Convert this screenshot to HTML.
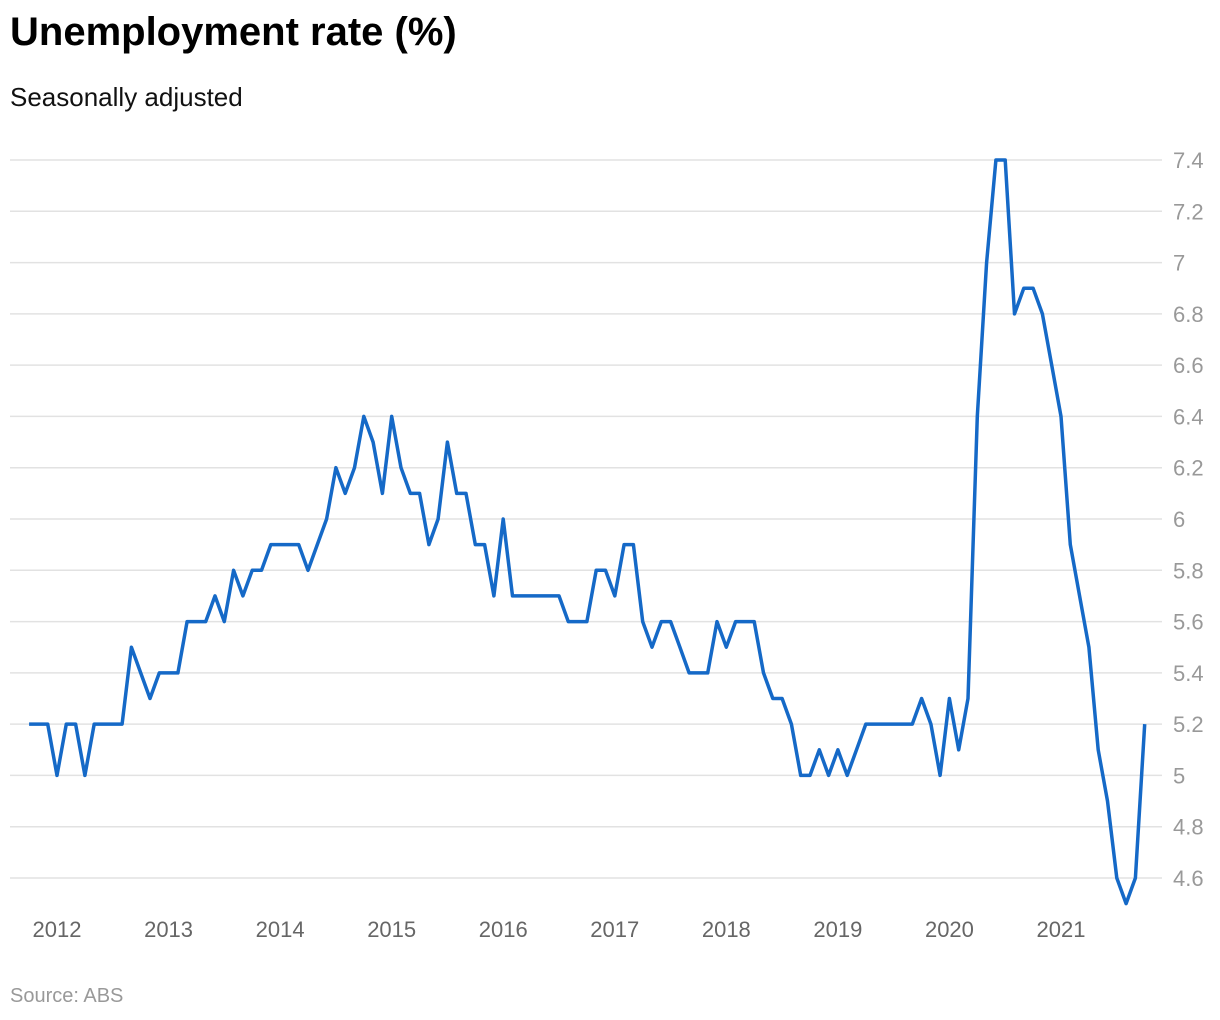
<!DOCTYPE html>
<html><head><meta charset="utf-8"><style>
body{margin:0;background:#fff;font-family:"Liberation Sans",sans-serif;}
#wrap{position:relative;width:1220px;height:1020px;overflow:hidden}
h1{position:absolute;left:10px;top:10px;margin:0;font-size:40px;font-weight:bold;color:#000}
.sub{position:absolute;left:10px;top:82px;font-size:26px;color:#111}
.src{position:absolute;left:10px;top:985px;font-size:20px;color:#999}
</style></head><body>
<div id="wrap">
<h1>Unemployment rate (%)</h1>
<div class="sub">Seasonally adjusted</div>
<svg id="chart" width="1220" height="1020" style="position:absolute;left:0;top:0"></svg>
<div class="src">Source: ABS</div>
</div>
<script>
const startYear = 2011, startMonth = 9; // Oct 2011 (0-based month)
const values = [5.2,5.2,5.2,5.0,5.2,5.2,5.0,5.2,5.2,5.2,5.2,5.5,5.4,5.3,5.4,5.4,5.4,5.6,5.6,5.6,5.7,5.6,5.8,5.7,5.8,5.8,5.9,5.9,5.9,5.9,5.8,5.9,6.0,6.2,6.1,6.2,6.4,6.3,6.1,6.4,6.2,6.1,6.1,5.9,6.0,6.3,6.1,6.1,5.9,5.9,5.7,6.0,5.7,5.7,5.7,5.7,5.7,5.7,5.6,5.6,5.6,5.8,5.8,5.7,5.9,5.9,5.6,5.5,5.6,5.6,5.5,5.4,5.4,5.4,5.6,5.5,5.6,5.6,5.6,5.4,5.3,5.3,5.2,5.0,5.0,5.1,5.0,5.1,5.0,5.1,5.2,5.2,5.2,5.2,5.2,5.2,5.3,5.2,5.0,5.3,5.1,5.3,6.4,7.0,7.4,7.4,6.8,6.9,6.9,6.8,6.6,6.4,5.9,5.7,5.5,5.1,4.9,4.6,4.5,4.6,5.2];
const yTicks = [4.6,4.8,5,5.2,5.4,5.6,5.8,6,6.2,6.4,6.6,6.8,7,7.2,7.4];
const yTickLabels = ["4.6","4.8","5","5.2","5.4","5.6","5.8","6","6.2","6.4","6.6","6.8","7","7.2","7.4"];
const xYears = [2012,2013,2014,2015,2016,2017,2018,2019,2020,2021];

const svg = document.getElementById('chart');
const NS = 'http://www.w3.org/2000/svg';
const monthW = (1061-57)/108;
function x(monthIndex){ return 57 + (monthIndex - ((2012-startYear)*12 - startMonth)) * monthW; }
function xi(i){ return x(i); }
function y(v){ return 160 + (7.4 - v) * (878-160)/2.8; }
function mk(tag, attrs){ const e=document.createElementNS(NS,tag); for(const k in attrs) e.setAttribute(k,attrs[k]); svg.appendChild(e); return e; }

yTicks.forEach((t,k)=>{
  const g = mk('line',{x1:10,x2:1162,y1:y(t),y2:y(t),stroke:'#e2e2e2','stroke-width':1.5});
  
  
  const tx = mk('text',{x:1173,y:y(t)+8,'font-size':22,fill:'#999','font-family':'Liberation Sans, sans-serif'});
  tx.textContent = yTickLabels[k];
  
  
});
xYears.forEach(yr=>{
  const mi = (yr-startYear)*12 - startMonth;
  const tx = mk('text',{x:x(mi),y:937,'font-size':22,fill:'#666','text-anchor':'middle','font-family':'Liberation Sans, sans-serif'});
  tx.textContent = yr;
  
  
});
const pts = values.map((v,i)=>xi(i).toFixed(1)+','+y(v).toFixed(1)).join(' ');
const line = mk('polyline',{points:pts,fill:'none',stroke:'#1569c7','stroke-width':3.5,'stroke-linejoin':'round'});


</script>
</body></html>
